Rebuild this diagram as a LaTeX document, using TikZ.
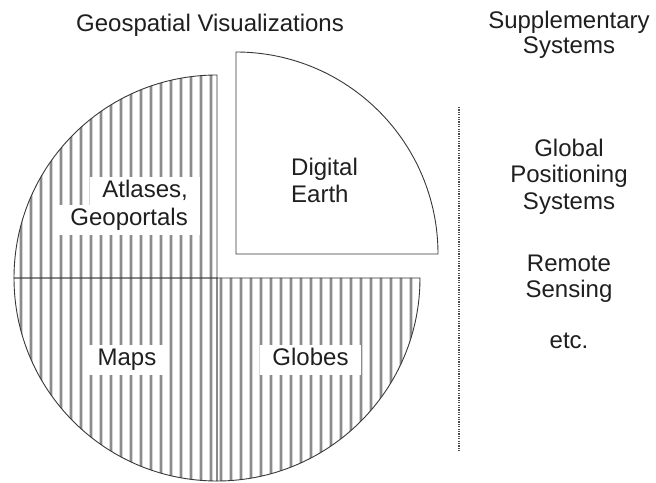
\documentclass[tikz,border=0pt]{standalone}
\usepackage{fontspec}
\setmainfont{Liberation Sans}
\begin{document}
\begin{tikzpicture}[x=1pt,y=1pt,
  txt/.style={inner sep=0pt, text=black!88, font=\fontsize{24}{27}\selectfont},
  labelbox/.style={txt, fill=white, inner xsep=12pt, inner ysep=3pt, text height=18pt, text depth=6pt},
  outline/.style={draw=black!78, line width=0.9pt},
  stripehalo/.style={draw=black!16, line width=4.8pt},
  stripecore/.style={draw=black!45, line width=2.8pt},
  sepline/.style={draw=black!70, line width=1.2pt, dash pattern=on 1.2pt off 1.2pt}]
\useasboundingbox[fill=white] (0,0) rectangle (656,482);
% striped quadrants
\foreach \q in {1,2,3}{
  \begin{scope}
    \ifcase\q\or
      \clip (217,204) -- (14,204) arc[start angle=180,end angle=90,radius=203] -- cycle;
    \or
      \clip (217,204) -- (14,204) arc[start angle=180,end angle=270,radius=203] -- cycle;
    \or
      \clip (217,204) -- (420,204) arc[start angle=0,end angle=-90,radius=203] -- cycle;
    \fi
    \foreach \x in {1,11,...,431}{
      \draw[stripehalo] (\x,-5) -- (\x,490);
      \draw[stripecore] (\x,-5) -- (\x,490);
    }
  \end{scope}
}
\draw[outline] (217,204) -- (14,204) arc[start angle=180,end angle=90,radius=203] -- cycle;
\draw[outline] (217,204) -- (14,204) arc[start angle=180,end angle=270,radius=203] -- cycle;
\draw[outline] (217,204) -- (420,204) arc[start angle=0,end angle=-90,radius=203] -- cycle;
\draw[outline, fill=white] (236,228) -- (438,228) arc[start angle=0,end angle=90,radius=202] -- cycle;
% separator
\coordinate (septop) at (459,375);
\coordinate (sepbot) at (459,30);
\draw[sepline] (septop) -- (sepbot);
% titles
\node[txt, anchor=base] (title) at (210,450) {Geospatial Visualizations};
\node[txt, anchor=base] (sup1) at (569,453) {Supplementary};
\node[txt, anchor=base] (sup2) at (569,428) {Systems};
% quadrant labels
\node[labelbox, anchor=base east] (atl1) at (200,284) {Atlases,};
\node[labelbox, anchor=base east] (atl2) at (200,256) {Geoportals};
\node[labelbox, anchor=base] (maps) at (127,116) {Maps};
\node[labelbox, anchor=base] (globes) at (310.5,116) {Globes};
\node[txt, anchor=base west] (dig1) at (291,306) {Digital};
\node[txt, anchor=base west] (dig2) at (291,279) {Earth};
% right column
\node[txt, anchor=base] (gps1) at (569,325) {Global};
\node[txt, anchor=base] (gps2) at (569,299) {Positioning};
\node[txt, anchor=base] (gps3) at (569,272) {Systems};
\node[txt, anchor=base] (rs1) at (569,210) {Remote};
\node[txt, anchor=base] (rs2) at (569,184) {Sensing};
\node[txt, anchor=base] (etc) at (569,133) {etc.};
\end{tikzpicture}
\end{document}
